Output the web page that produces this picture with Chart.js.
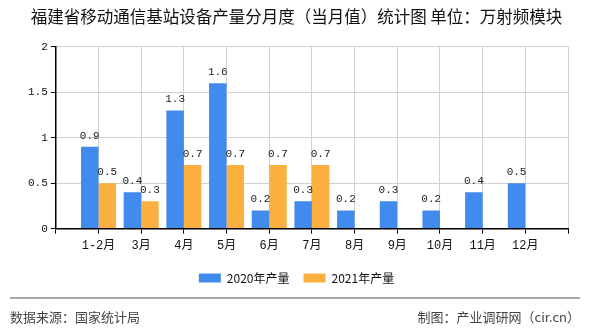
<!DOCTYPE html>
<html>
<head>
<meta charset="utf-8">
<script src="https://cdn.jsdelivr.net/npm/chart.js@4"></script>
<style>
  html, body { margin: 0; padding: 0; background: #fff; }
  #wrap { width: 590px; height: 330px; }
</style>
</head>
<body>
<div id="wrap"><canvas id="chart" width="590" height="330"></canvas></div>
<script>
// 月份（前后各留一个空位，和原图一样两端留白）
var months = ['1-2月', '3月', '4月', '5月', '6月', '7月', '8月', '9月', '10月', '11月', '12月'];
var data2020 = [0.9, 0.4, 1.3, 1.6, 0.2, 0.3, 0.2, 0.3, 0.2, 0.4, 0.5];
var data2021 = [0.5, 0.3, 0.7, 0.7, 0.7, 0.7];
var yTicks = [0, 0.5, 1, 1.5, 2];

var titleText = '福建省移动通信基站设备产量分月度（当月值）统计图 单位：万射频模块';
var sourceText = '数据来源：国家统计局';
var makerText = '制图：产业调研网（cir.cn）';

var cjk = '"Noto Sans CJK SC", sans-serif';
var mono = '"Liberation Mono", "Noto Sans CJK SC", monospace';

// 补成13格
function pad(arr) {
    var out = [null];
    for (let i = 0; i < months.length; i++) {
        out.push(i < arr.length ? arr[i] : null);
    }
    out.push(null);
    return out;
}
var labels = [''].concat(months).concat(['']);

// 柱子上的数值
var valueLabels = {
    id: 'valueLabels',
    afterDatasetsDraw: function (chart) {
        var ctx = chart.ctx;
        ctx.save();
        ctx.font = '11px ' + mono;
        ctx.fillStyle = '#222';
        ctx.textAlign = 'center';
        ctx.textBaseline = 'alphabetic';
        chart.data.datasets.forEach(function (ds, di) {
            var meta = chart.getDatasetMeta(di);
            meta.data.forEach(function (bar, i) {
                var v = ds.data[i];
                if (v === null || v === undefined) return;
                ctx.fillText(String(v), bar.x, bar.y - 8);
            });
        });
        ctx.restore();
    }
};

// 底部来源
var footer = {
    id: 'footer',
    afterDraw: function (chart) {
        var ctx = chart.ctx;
        ctx.save();
        ctx.strokeStyle = '#888';
        ctx.lineWidth = 1.5;
        ctx.beginPath();
        ctx.moveTo(10, 298);
        ctx.lineTo(580, 298);
        ctx.stroke();
        ctx.font = '13px ' + cjk;
        ctx.fillStyle = '#444';
        ctx.textBaseline = 'middle';
        ctx.textAlign = 'left';
        ctx.fillText(sourceText, 10, 317);
        ctx.textAlign = 'right';
        ctx.fillText(makerText, 580, 317);
        ctx.restore();
    }
};

var context = document.querySelector('#chart').getContext('2d');
new Chart(context, {
    type: 'bar',
    data: {
        labels: labels,
        datasets: [{
            label: '2020年产量',
            data: pad(data2020),
            backgroundColor: '#428BEE',
            categoryPercentage: 0.82,
            barPercentage: 1
        }, {
            label: '2021年产量',
            data: pad(data2021),
            backgroundColor: '#FBB040',
            categoryPercentage: 0.82,
            barPercentage: 1
        }]
    },
    options: {
        responsive: false,
        animation: false,
        layout: { padding: { left: 25, right: 22, top: 6, bottom: 36 } },
        plugins: {
            title: {
                display: true,
                text: titleText,
                color: '#111',
                font: { family: cjk, size: 16.5, weight: 'normal' },
                padding: { top: 1, bottom: 20 }
            },
            legend: {
                position: 'bottom',
                labels: {
                    boxWidth: 22,
                    boxHeight: 9,
                    padding: 14,
                    color: '#111',
                    font: { family: cjk, size: 12 }
                }
            },
            tooltip: { enabled: false }
        },
        scales: {
            x: {
                offset: false,
                grid: { offset: false, color: '#d0d0d0', tickColor: '#000', tickLength: 5 },
                border: { display: true, color: '#000', width: 1.5 },
                ticks: {
                    autoSkip: false,
                    maxRotation: 0,
                    color: '#111',
                    padding: 5,
                    font: { family: mono, size: 12 }
                }
            },
            y: {
                min: 0,
                max: 2,
                afterBuildTicks: function (axis) {
                    axis.ticks = yTicks.map(function (v) { return { value: v }; });
                },
                grid: { color: '#d0d0d0', tickColor: '#000', tickLength: 5 },
                border: { display: true, color: '#000', width: 1.5 },
                ticks: {
                    color: '#111',
                    padding: 3,
                    font: { family: mono, size: 11 },
                    callback: function (v) { return String(v); }
                }
            }
        }
    },
    plugins: [valueLabels, footer]
});
</script>
</body>
</html>
